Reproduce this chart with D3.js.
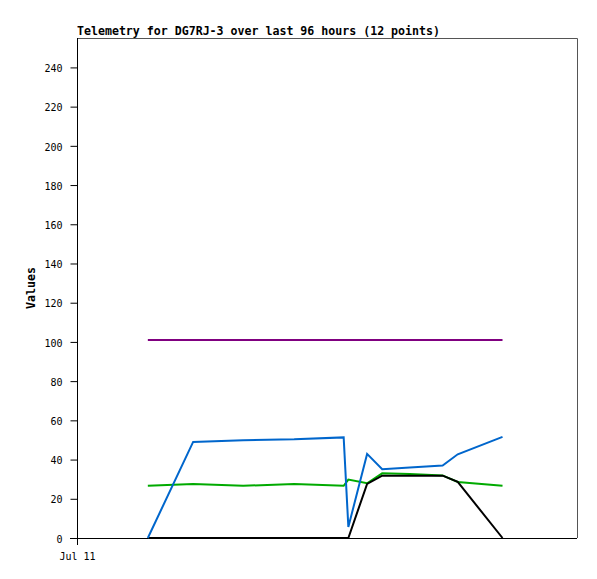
<!DOCTYPE html>
<html><head><meta charset="utf-8">
<script src="https://cdn.jsdelivr.net/npm/d3@7"></script>
<style>body{margin:0;background:#fff}svg{display:block}text{font-family:"DejaVu Sans Mono",monospace}</style>
</head><body><svg id="c" width="597" height="579"></svg>
<script>
const titleText = "Telemetry for DG7RJ-3 over last 96 hours (12 points)";
const yLabel = "Values";
const startTime = new Date(2024, 6, 11, 0, 0);
const spanHours = 96;
const hours = [13.6, 22.3, 31.9, 41.7, 51.2, 52.1, 55.7, 58.6, 63.9, 70.2, 73.1, 81.7];
const seriesBlue   = [0, 49.0, 49.9, 50.3, 51.3, 5.6, 42.9, 35.1, 36.0, 37.0, 42.7, 51.6];
const seriesGreen  = [26.6, 27.6, 26.6, 27.6, 26.6, 29.8, 27.9, 33.0, 32.6, 31.9, 28.6, 26.7];
const seriesBlack  = [0, 0, 0, 0, 0, 0, 27.6, 31.8, 31.8, 31.8, 28.6, 0];
const seriesPurple = [101, 101, 101, 101, 101, 101, 101, 101, 101, 101, 101, 101];
const yTicks = [0,20,40,60,80,100,120,140,160,180,200,220,240];
const yMax = 255;

const svg = d3.select("#c");
const L = 77, R = 577, T = 38, B = 538;
const times = hours.map(h => new Date(startTime.getTime() + h*3600e3));
const x = d3.scaleTime().domain([startTime, new Date(startTime.getTime()+spanHours*3600e3)]).range([L, R]);
const y = d3.scaleLinear().domain([0, yMax]).range([B, T]);

// frame top/right
svg.append("path").attr("d", `M${L},${T+0.5}H${R+0.5}V${B}`).attr("fill","none").attr("stroke","#555").attr("stroke-width",1);

// y axis
const ya = svg.append("g").attr("transform", `translate(${L+0.5},0)`)
  .call(d3.axisLeft(y).tickValues(yTicks).tickSize(7).tickPadding(8).tickSizeOuter(0));
ya.select(".domain").remove();
ya.selectAll("line").attr("stroke","#000");
ya.selectAll("text").attr("font-size", "10px").attr("fill","#000").attr("dy","0.42em");
svg.append("line").attr("x1",L+0.5).attr("x2",L+0.5).attr("y1",T).attr("y2",B+7).attr("stroke","#000");

// x axis
const xa = svg.append("g").attr("transform", `translate(0,${B+0.5})`)
  .call(d3.axisBottom(x).tickValues([startTime]).tickFormat(d3.timeFormat("%b %d")).tickSize(0).tickPadding(14));
xa.select(".domain").remove();
xa.selectAll("text").attr("font-size","10px").attr("fill","#000");
svg.append("line").attr("x1",L-7).attr("x2",R).attr("y1",B+0.5).attr("y2",B+0.5).attr("stroke","#000");

// lines
const line = d3.line().x((d,i)=>x(times[i])).y(d=>y(d));
[[seriesGreen,"#00aa00"],[seriesBlack,"#000000"],[seriesPurple,"#800080"],[seriesBlue,"#0066cc"]].forEach(([s,c])=>{
  svg.append("path").datum(s).attr("d", line).attr("fill","none").attr("stroke",c).attr("stroke-width",2);
});

// title
svg.append("text").attr("x", L).attr("y", 35).attr("font-size","11.6px").attr("font-weight","bold").text(titleText);
svg.append("text").attr("transform", `translate(35,${(T+B)/2}) rotate(-90)`).attr("text-anchor","middle")
  .attr("font-size","11.6px").attr("font-weight","bold").text(yLabel);
</script></body></html>
